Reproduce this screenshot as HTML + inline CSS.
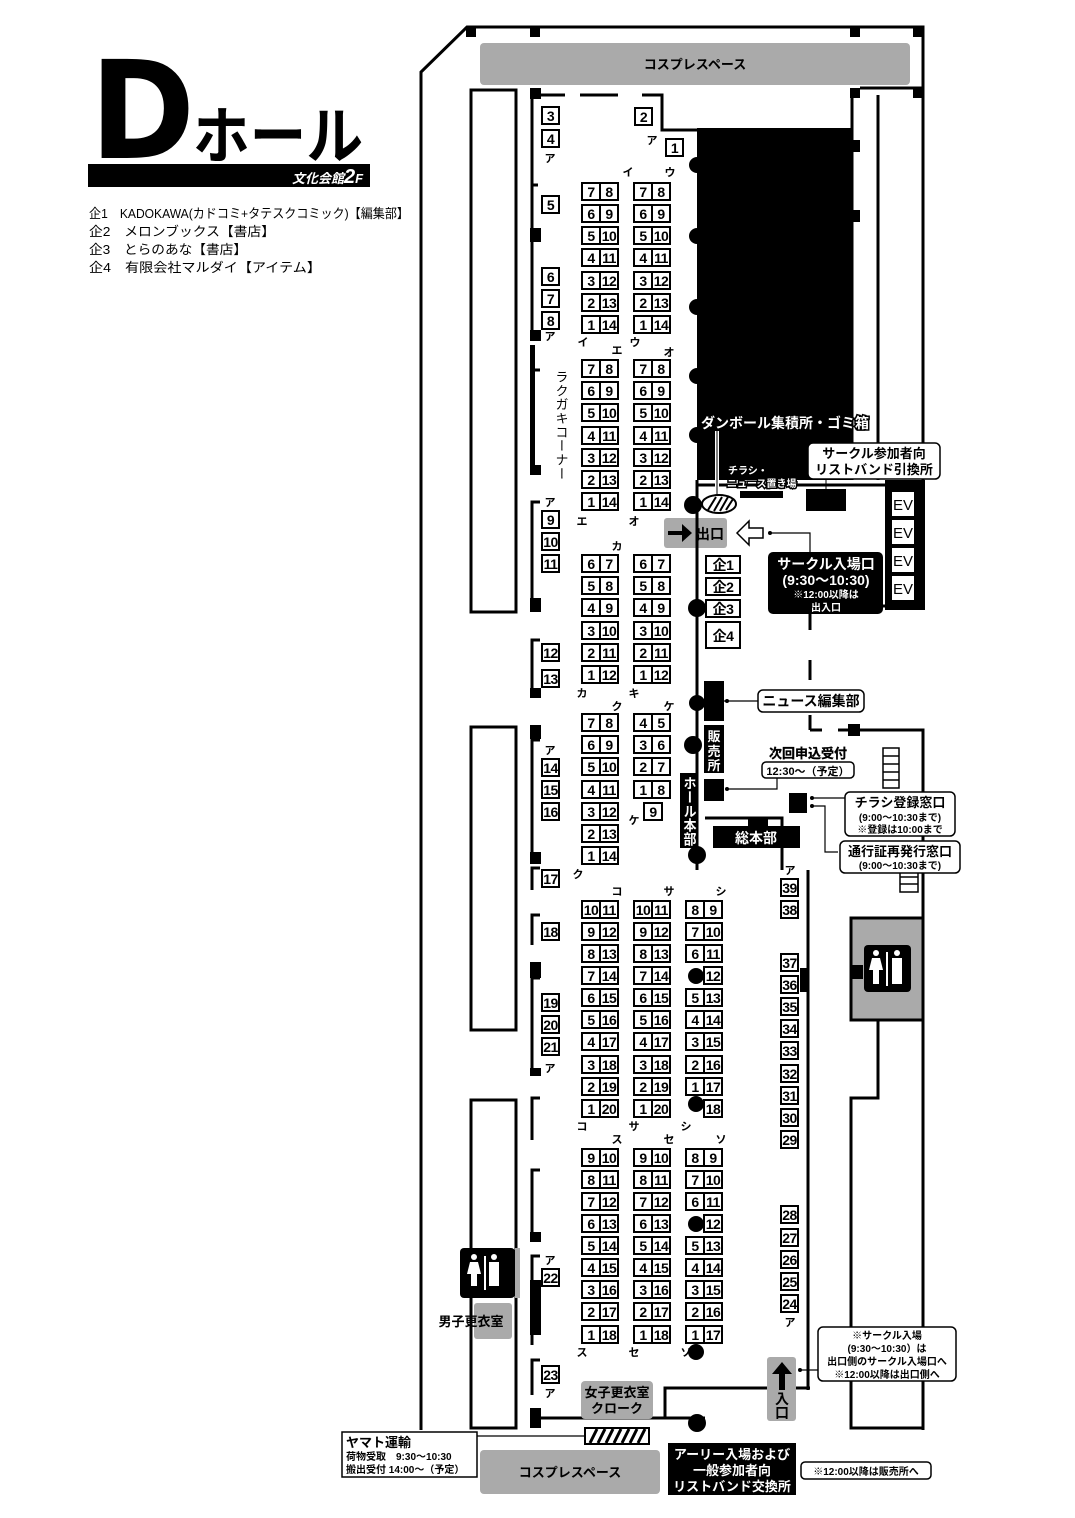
<!DOCTYPE html>
<html><head><meta charset="utf-8">
<style>
html,body{margin:0;padding:0;background:#fff;}
svg{display:block;}
text{font-family:"Liberation Sans","Noto Sans CJK JP",sans-serif;}
.bt rect{fill:#fff;stroke:#000;stroke-width:2;}
.bt text{font-size:14px;font-weight:bold;text-anchor:middle;letter-spacing:-0.5px;}
.lb{font-size:11px;font-weight:bold;text-anchor:middle;}
.w{fill:none;stroke:#000;stroke-width:3;}
.t{fill:none;stroke:#000;stroke-width:1.2;}
.c{font-weight:bold;text-anchor:middle;}
.ol{fill:#fff;stroke:#000;stroke-width:3;paint-order:stroke;font-weight:bold;}
.vt{writing-mode:vertical-rl;}
</style></head>
<body>
<svg width="1075" height="1518" viewBox="0 0 1075 1518" xmlns="http://www.w3.org/2000/svg">
<!-- Title -->
<text x="90" y="158" font-size="136" font-weight="bold" style="font-family:'DejaVu Sans','Liberation Sans',sans-serif" textLength="105" lengthAdjust="spacingAndGlyphs">D</text>
<text x="193" y="158" font-size="62" font-weight="bold" style="font-family:'Noto Sans CJK JP',sans-serif" textLength="170" lengthAdjust="spacingAndGlyphs">ホール</text>
<rect x="88" y="164" width="282" height="23" fill="#000"/>
<text x="292" y="183" font-size="13" font-weight="bold" fill="#fff" font-style="italic">文化会館<tspan font-size="20">2</tspan><tspan font-size="13">F</tspan></text>
<g font-size="13">
<text x="89" y="218" textLength="320" lengthAdjust="spacingAndGlyphs">企1　KADOKAWA(カドコミ+タテスクコミック)【編集部】</text>
<text x="89" y="236" textLength="186" lengthAdjust="spacingAndGlyphs">企2　メロンブックス【書店】</text>
<text x="89" y="254" textLength="158" lengthAdjust="spacingAndGlyphs">企3　とらのあな【書店】</text>
<text x="89" y="272" textLength="232" lengthAdjust="spacingAndGlyphs">企4　有限会社マルダイ【アイテム】</text>
</g>

<!-- outer walls -->
<polyline class="w" points="421,1430 421,72 467,27 923,27 923,482"/>
<rect x="466" y="27" width="10" height="10"/><rect x="530" y="27" width="10" height="10"/><rect x="850" y="27" width="10" height="10"/><rect x="913" y="27" width="10" height="10"/>
<rect x="480" y="43" width="430" height="42" rx="4" fill="#aaa"/>
<text x="695" y="69" font-size="13" font-weight="bold" text-anchor="middle">コスプレスペース</text>
<line class="w" x1="860" y1="88" x2="923" y2="88"/><rect x="850" y="88" width="10" height="10"/><rect x="913" y="88" width="10" height="10"/>
<!-- left rooms -->
<rect class="w" x="471" y="90" width="45" height="522"/>
<rect class="w" x="471" y="727" width="45" height="303"/>
<rect class="w" x="471" y="1100" width="45" height="328"/>
<rect x="460" y="1248" width="55" height="50" rx="4" fill="#000"/>
<rect x="515" y="1248" width="5" height="50" fill="#aaa"/>
<rect x="474" y="1303" width="38" height="36" rx="3" fill="#aaa"/>
<text x="471" y="1326" font-size="13" font-weight="bold" text-anchor="middle">男子更衣室</text>
<g fill="#fff"><circle cx="474" cy="1257" r="3"/><path d="M470 1262h8l3 12h-4v12h-6v-12h-4z"/><rect x="484" y="1256" width="2" height="34"/><circle cx="494" cy="1257" r="3"/><rect x="489" y="1262" width="10" height="24"/></g>
<!-- inner left wall -->
<g class="w">
<polyline points="532,235 532,95 565,95"/><line x1="580" y1="95" x2="618" y2="95"/><polyline points="642,95 662,95 662,130 697,130"/>
<polyline points="532,335 532,185 538,185"/><polyline points="540,370 532,370 532,468"/>
<polyline points="540,502 532,502 532,600"/>
<polyline points="540,640 532,640 532,688"/>
<polyline points="540,740 532,740 532,855"/>
<polyline points="540,868 532,868 532,890"/>
<polyline points="540,915 532,915 532,945"/>
<polyline points="540,978 532,978 532,1070"/>
<polyline points="540,1098 532,1098 532,1140"/>
<polyline points="540,1170 532,1170 532,1232"/>
<polyline points="540,1256 532,1256 532,1345"/>
<polyline points="540,1360 532,1360 532,1395"/>
<polyline points="532,1418 705,1418"/><line x1="750" y1="1388" x2="810" y2="1388"/>
<polyline points="665,1418 665,1388 740,1388"/>
</g>
<g fill="#000">
<rect x="530" y="88" width="11" height="11"/><rect x="530" y="228" width="11" height="14"/><rect x="530" y="330" width="11" height="11"/><rect x="530" y="465" width="11" height="10"/><rect x="530" y="598" width="11" height="14"/><rect x="530" y="688" width="11" height="10"/><rect x="530" y="725" width="11" height="14"/><rect x="530" y="852" width="11" height="12"/><rect x="530" y="962" width="11" height="16"/><rect x="530" y="1068" width="11" height="8"/><rect x="530" y="1232" width="11" height="10"/><rect x="530" y="1280" width="11" height="55"/><rect x="530" y="1408" width="11" height="20"/>
<rect x="530" y="345" width="5" height="130"/>
</g>
<!-- black block -->
<rect x="697" y="128" width="155" height="352" fill="#000"/>
<g fill="#000"><circle cx="697" cy="165" r="8"/><circle cx="697" cy="236" r="8"/><circle cx="697" cy="307" r="8"/><circle cx="697" cy="376" r="8"/><circle cx="697" cy="435" r="8"/><circle cx="693" cy="505" r="9"/><circle cx="697" cy="608" r="9"/><circle cx="697" cy="703" r="8"/><circle cx="693" cy="745" r="9"/><circle cx="697" cy="855" r="9"/><circle cx="696" cy="1352" r="8"/><circle cx="697" cy="1423" r="9"/></g>
<g class="w"><line x1="852" y1="90" x2="852" y2="480"/><line x1="878" y1="95" x2="878" y2="480"/><line x1="697" y1="485" x2="885" y2="485"/></g>
<rect x="852" y="140" width="8" height="12" fill="#000"/><rect x="852" y="210" width="8" height="12" fill="#000"/>
<rect x="885" y="480" width="40" height="130" fill="#000"/>
<g font-size="15" text-anchor="middle"><rect x="892" y="520" width="22" height="24" fill="#fff"/><text x="903" y="538">EV</text><rect x="892" y="548" width="22" height="24" fill="#fff"/><text x="903" y="566">EV</text><rect x="892" y="576" width="22" height="24" fill="#fff"/><text x="903" y="594">EV</text><rect x="892" y="492" width="22" height="24" fill="#fff"/><text x="903" y="510">EV</text></g>
<line x1="717" y1="431" x2="717" y2="495" stroke="#fff" stroke-width="4"/><line x1="717" y1="431" x2="717" y2="495" stroke="#000" stroke-width="1"/>
<text class="ol" x="785" y="428" font-size="14" text-anchor="middle">ダンボール集積所・ゴミ箱</text>
<ellipse cx="719" cy="504" rx="17" ry="9" fill="#fff" stroke="#000" stroke-width="2"/>
<g stroke="#000" stroke-width="2"><line x1="708" y1="510" x2="716" y2="497"/><line x1="714" y1="511" x2="722" y2="497"/><line x1="720" y1="511" x2="728" y2="497"/><line x1="726" y1="510" x2="733" y2="499"/></g>
<text class="ol" x="728" y="474" font-size="10">チラシ・</text>
<text class="ol" x="727" y="487" font-size="10">ニュース置き場</text>
<rect x="740" y="491" width="43" height="7" fill="#000"/>
<rect x="806" y="489" width="40" height="22" fill="#000"/>
<rect x="808" y="443" width="132" height="36" rx="5" fill="#fff" stroke="#000" stroke-width="1.5"/>
<text class="c" x="874" y="458" font-size="13">サークル参加者向</text><text class="c" x="874" y="474" font-size="13">リストバンド引換所</text>
<line x1="826" y1="479" x2="826" y2="493" stroke="#000"/>
<!-- exit -->
<rect x="664" y="518" width="63" height="30" rx="3" fill="#aaa"/>
<path d="M668 531h14v-7l10 9-10 9v-7h-14z" fill="#000"/>
<text x="710" y="539" font-size="14" font-weight="bold" text-anchor="middle">出口</text>
<path d="M737 533l12-12v7h14v10h-14v7z" fill="#fff" stroke="#000" stroke-width="1.5"/>
<polyline class="t" points="770,533 810,533 810,555"/><circle cx="770" cy="533" r="2"/>
<rect x="768" y="552" width="115" height="62" rx="5" fill="#000"/>
<g fill="#fff" text-anchor="middle" font-weight="bold"><text x="826" y="569" font-size="14">サークル入場口</text><text x="826" y="585" font-size="14">(9:30〜10:30)</text><text x="826" y="598" font-size="10">※12:00以降は</text><text x="826" y="611" font-size="10">出入口</text></g>
<line class="w" x1="810" y1="614" x2="810" y2="630"/>
<line x1="883" y1="606" x2="923" y2="606" stroke="#000" stroke-width="3"/>
<!-- center vertical & dashed -->
<g class="w"><line x1="697" y1="480" x2="697" y2="870"/>
<line x1="810" y1="660" x2="810" y2="680"/><line x1="810" y1="715" x2="810" y2="730"/>
<polyline points="810,730 822,730"/><polyline points="838,730 923,730 923,1430"/>
<line x1="808" y1="870" x2="808" y2="1390"/>
<polyline points="705,818 782,818 782,870"/>
<polyline points="851,918 923,918"/><line x1="851" y1="1020" x2="923" y2="1020"/><polyline points="878,1020 878,1098 851,1098 851,1428 923,1428"/>
</g>
<rect x="851" y="918" width="72" height="102" fill="#aaa" stroke="#000" stroke-width="3"/>
<rect x="864" y="945" width="47" height="47" rx="4" fill="#000"/>
<g fill="#fff"><circle cx="876" cy="953" r="3"/><path d="M872 958h8l3 12h-4v14h-6v-14h-4z"/><rect x="886" y="952" width="2" height="34"/><circle cx="897" cy="953" r="3"/><rect x="892" y="958" width="10" height="26"/></g>
<rect x="851" y="965" width="12" height="14" fill="#000"/>
<rect x="800" y="968" width="8" height="24" fill="#000"/>
<!-- stairs -->
<rect x="883" y="748" width="16" height="40" fill="#fff" stroke="#000" stroke-width="1.5"/>
<g stroke="#000" stroke-width="1.5"><line x1="883" y1="756" x2="899" y2="756"/><line x1="883" y1="764" x2="899" y2="764"/><line x1="883" y1="772" x2="899" y2="772"/><line x1="883" y1="780" x2="899" y2="780"/></g>
<rect x="900" y="870" width="18" height="22" fill="#fff" stroke="#000" stroke-width="1.5"/>
<g stroke="#000" stroke-width="1.5"><line x1="900" y1="877" x2="918" y2="877"/><line x1="900" y1="884" x2="918" y2="884"/></g>
<rect x="848" y="724" width="12" height="12" fill="#000"/>
<!-- side labels -->
<rect x="704" y="681" width="20" height="40" fill="#000"/>
<line class="t" x1="724" y1="701" x2="760" y2="701"/><circle cx="727" cy="701" r="2"/>
<rect x="758" y="690" width="106" height="22" rx="5" fill="#fff" stroke="#000" stroke-width="1.5"/>
<text class="c" x="811" y="706" font-size="14">ニュース編集部</text>
<rect x="704" y="725" width="20" height="48" fill="#000"/>
<g font-size="13" font-weight="bold" fill="#fff" text-anchor="middle"><text x="714" y="741">販</text><text x="714" y="756">売</text><text x="714" y="770">所</text></g>
<rect x="704" y="779" width="20" height="22" fill="#000"/>
<polyline class="t" points="727,789 777,789 777,778"/><circle cx="727" cy="789" r="2"/>
<text class="c" x="808" y="758" font-size="13" stroke="#000" stroke-width="0.3">次回申込受付</text>
<rect x="762" y="762" width="92" height="16" rx="4" fill="#fff" stroke="#000" stroke-width="1.5"/>
<text class="c" x="808" y="775" font-size="11">12:30〜（予定）</text>
<rect x="680" y="773" width="18" height="75" fill="#000"/>
<text class="vt" x="689" y="776" font-size="13" font-weight="bold" fill="#fff" textLength="70" lengthAdjust="spacingAndGlyphs">ホール本部</text>
<rect x="713" y="826" width="87" height="22" fill="#000"/><rect x="748" y="818" width="20" height="10" fill="#000"/>
<text x="756" y="843" font-size="14" font-weight="bold" fill="#fff" text-anchor="middle">総本部</text>
<rect x="789" y="793" width="18" height="20" fill="#000"/>
<polyline class="t" points="812,798 845,798"/><circle cx="812" cy="798" r="2"/>
<polyline class="t" points="812,806 825,806 825,852 838,852"/><circle cx="812" cy="806" r="2"/>
<rect x="845" y="792" width="110" height="44" rx="5" fill="#fff" stroke="#000" stroke-width="1.5"/>
<text class="c" x="900" y="807" font-size="13">チラシ登録窓口</text><text class="c" x="900" y="821" font-size="10">(9:00〜10:30まで)</text><text class="c" x="900" y="833" font-size="10">※登録は10:00まで</text>
<rect x="840" y="841" width="120" height="32" rx="5" fill="#fff" stroke="#000" stroke-width="1.5"/>
<text class="c" x="900" y="856" font-size="13">通行証再発行窓口</text><text class="c" x="900" y="869" font-size="10">(9:00〜10:30まで)</text>
<!-- 企 booths -->
<g class="bt"><rect x="706" y="556" width="34" height="17"/><rect x="706" y="578" width="34" height="17"/><rect x="706" y="600" width="34" height="17"/><rect x="706" y="622" width="34" height="26"/>
<text x="723" y="570">企1</text><text x="723" y="592">企2</text><text x="723" y="614">企3</text><text x="723" y="641">企4</text></g>
<!-- ラクガキコーナー -->
<text class="vt" x="561" y="370" font-size="13" textLength="110" lengthAdjust="spacing">ラクガキコーナー</text>

<!-- BOOTHS -->
<g class="bt">
<g transform="translate(542,107)"><rect width="17" height="17"/><text x="8.5" y="14">3</text></g>
<g transform="translate(542,130)"><rect width="17" height="17"/><text x="8.5" y="14">4</text></g>
<g transform="translate(542,196)"><rect width="17" height="17"/><text x="8.5" y="14">5</text></g>
<g transform="translate(542,268)"><rect width="17" height="17"/><text x="8.5" y="14">6</text></g>
<g transform="translate(542,290)"><rect width="17" height="17"/><text x="8.5" y="14">7</text></g>
<g transform="translate(542,312)"><rect width="17" height="17"/><text x="8.5" y="14">8</text></g>
<g transform="translate(542,511)"><rect width="17" height="17"/><text x="8.5" y="14">9</text></g>
<g transform="translate(542,533)"><rect width="17" height="17"/><text x="8.5" y="14">10</text></g>
<g transform="translate(542,555)"><rect width="17" height="17"/><text x="8.5" y="14">11</text></g>
<g transform="translate(542,644)"><rect width="17" height="17"/><text x="8.5" y="14">12</text></g>
<g transform="translate(542,670)"><rect width="17" height="17"/><text x="8.5" y="14">13</text></g>
<g transform="translate(542,759)"><rect width="17" height="17"/><text x="8.5" y="14">14</text></g>
<g transform="translate(542,781)"><rect width="17" height="17"/><text x="8.5" y="14">15</text></g>
<g transform="translate(542,803)"><rect width="17" height="17"/><text x="8.5" y="14">16</text></g>
<g transform="translate(542,870)"><rect width="17" height="17"/><text x="8.5" y="14">17</text></g>
<g transform="translate(542,923)"><rect width="17" height="17"/><text x="8.5" y="14">18</text></g>
<g transform="translate(542,994)"><rect width="17" height="17"/><text x="8.5" y="14">19</text></g>
<g transform="translate(542,1016)"><rect width="17" height="17"/><text x="8.5" y="14">20</text></g>
<g transform="translate(542,1038)"><rect width="17" height="17"/><text x="8.5" y="14">21</text></g>
<g transform="translate(542,1269)"><rect width="17" height="17"/><text x="8.5" y="14">22</text></g>
<g transform="translate(542,1366)"><rect width="17" height="17"/><text x="8.5" y="14">23</text></g>
<g transform="translate(635,108)"><rect width="17" height="17"/><text x="8.5" y="14">2</text></g>
<g transform="translate(666,139)"><rect width="17" height="17"/><text x="8.5" y="14">1</text></g>
<g transform="translate(781,879)"><rect width="17" height="17"/><text x="8.5" y="14">39</text></g>
<g transform="translate(781,901)"><rect width="17" height="17"/><text x="8.5" y="14">38</text></g>
<g transform="translate(781,954)"><rect width="17" height="17"/><text x="8.5" y="14">37</text></g>
<g transform="translate(781,976)"><rect width="17" height="17"/><text x="8.5" y="14">36</text></g>
<g transform="translate(781,998)"><rect width="17" height="17"/><text x="8.5" y="14">35</text></g>
<g transform="translate(781,1020)"><rect width="17" height="17"/><text x="8.5" y="14">34</text></g>
<g transform="translate(781,1042)"><rect width="17" height="17"/><text x="8.5" y="14">33</text></g>
<g transform="translate(781,1065)"><rect width="17" height="17"/><text x="8.5" y="14">32</text></g>
<g transform="translate(781,1087)"><rect width="17" height="17"/><text x="8.5" y="14">31</text></g>
<g transform="translate(781,1109)"><rect width="17" height="17"/><text x="8.5" y="14">30</text></g>
<g transform="translate(781,1131)"><rect width="17" height="17"/><text x="8.5" y="14">29</text></g>
<g transform="translate(781,1206)"><rect width="17" height="17"/><text x="8.5" y="14">28</text></g>
<g transform="translate(781,1229)"><rect width="17" height="17"/><text x="8.5" y="14">27</text></g>
<g transform="translate(781,1251)"><rect width="17" height="17"/><text x="8.5" y="14">26</text></g>
<g transform="translate(781,1273)"><rect width="17" height="17"/><text x="8.5" y="14">25</text></g>
<g transform="translate(781,1295)"><rect width="17" height="17"/><text x="8.5" y="14">24</text></g>

<g transform="translate(582,183)"><rect width="18" height="17"/><rect x="18" width="18" height="17"/><text x="9" y="14">7</text><text x="27" y="14">8</text></g>
<g transform="translate(582,205)"><rect width="18" height="17"/><rect x="18" width="18" height="17"/><text x="9" y="14">6</text><text x="27" y="14">9</text></g>
<g transform="translate(582,227)"><rect width="18" height="17"/><rect x="18" width="18" height="17"/><text x="9" y="14">5</text><text x="27" y="14">10</text></g>
<g transform="translate(582,249)"><rect width="18" height="17"/><rect x="18" width="18" height="17"/><text x="9" y="14">4</text><text x="27" y="14">11</text></g>
<g transform="translate(582,272)"><rect width="18" height="17"/><rect x="18" width="18" height="17"/><text x="9" y="14">3</text><text x="27" y="14">12</text></g>
<g transform="translate(582,294)"><rect width="18" height="17"/><rect x="18" width="18" height="17"/><text x="9" y="14">2</text><text x="27" y="14">13</text></g>
<g transform="translate(582,316)"><rect width="18" height="17"/><rect x="18" width="18" height="17"/><text x="9" y="14">1</text><text x="27" y="14">14</text></g>
<g transform="translate(634,183)"><rect width="18" height="17"/><rect x="18" width="18" height="17"/><text x="9" y="14">7</text><text x="27" y="14">8</text></g>
<g transform="translate(634,205)"><rect width="18" height="17"/><rect x="18" width="18" height="17"/><text x="9" y="14">6</text><text x="27" y="14">9</text></g>
<g transform="translate(634,227)"><rect width="18" height="17"/><rect x="18" width="18" height="17"/><text x="9" y="14">5</text><text x="27" y="14">10</text></g>
<g transform="translate(634,249)"><rect width="18" height="17"/><rect x="18" width="18" height="17"/><text x="9" y="14">4</text><text x="27" y="14">11</text></g>
<g transform="translate(634,272)"><rect width="18" height="17"/><rect x="18" width="18" height="17"/><text x="9" y="14">3</text><text x="27" y="14">12</text></g>
<g transform="translate(634,294)"><rect width="18" height="17"/><rect x="18" width="18" height="17"/><text x="9" y="14">2</text><text x="27" y="14">13</text></g>
<g transform="translate(634,316)"><rect width="18" height="17"/><rect x="18" width="18" height="17"/><text x="9" y="14">1</text><text x="27" y="14">14</text></g>
<g transform="translate(582,360)"><rect width="18" height="17"/><rect x="18" width="18" height="17"/><text x="9" y="14">7</text><text x="27" y="14">8</text></g>
<g transform="translate(582,382)"><rect width="18" height="17"/><rect x="18" width="18" height="17"/><text x="9" y="14">6</text><text x="27" y="14">9</text></g>
<g transform="translate(582,404)"><rect width="18" height="17"/><rect x="18" width="18" height="17"/><text x="9" y="14">5</text><text x="27" y="14">10</text></g>
<g transform="translate(582,427)"><rect width="18" height="17"/><rect x="18" width="18" height="17"/><text x="9" y="14">4</text><text x="27" y="14">11</text></g>
<g transform="translate(582,449)"><rect width="18" height="17"/><rect x="18" width="18" height="17"/><text x="9" y="14">3</text><text x="27" y="14">12</text></g>
<g transform="translate(582,471)"><rect width="18" height="17"/><rect x="18" width="18" height="17"/><text x="9" y="14">2</text><text x="27" y="14">13</text></g>
<g transform="translate(582,493)"><rect width="18" height="17"/><rect x="18" width="18" height="17"/><text x="9" y="14">1</text><text x="27" y="14">14</text></g>
<g transform="translate(634,360)"><rect width="18" height="17"/><rect x="18" width="18" height="17"/><text x="9" y="14">7</text><text x="27" y="14">8</text></g>
<g transform="translate(634,382)"><rect width="18" height="17"/><rect x="18" width="18" height="17"/><text x="9" y="14">6</text><text x="27" y="14">9</text></g>
<g transform="translate(634,404)"><rect width="18" height="17"/><rect x="18" width="18" height="17"/><text x="9" y="14">5</text><text x="27" y="14">10</text></g>
<g transform="translate(634,427)"><rect width="18" height="17"/><rect x="18" width="18" height="17"/><text x="9" y="14">4</text><text x="27" y="14">11</text></g>
<g transform="translate(634,449)"><rect width="18" height="17"/><rect x="18" width="18" height="17"/><text x="9" y="14">3</text><text x="27" y="14">12</text></g>
<g transform="translate(634,471)"><rect width="18" height="17"/><rect x="18" width="18" height="17"/><text x="9" y="14">2</text><text x="27" y="14">13</text></g>
<g transform="translate(634,493)"><rect width="18" height="17"/><rect x="18" width="18" height="17"/><text x="9" y="14">1</text><text x="27" y="14">14</text></g>
<g transform="translate(582,555)"><rect width="18" height="17"/><rect x="18" width="18" height="17"/><text x="9" y="14">6</text><text x="27" y="14">7</text></g>
<g transform="translate(582,577)"><rect width="18" height="17"/><rect x="18" width="18" height="17"/><text x="9" y="14">5</text><text x="27" y="14">8</text></g>
<g transform="translate(582,599)"><rect width="18" height="17"/><rect x="18" width="18" height="17"/><text x="9" y="14">4</text><text x="27" y="14">9</text></g>
<g transform="translate(582,622)"><rect width="18" height="17"/><rect x="18" width="18" height="17"/><text x="9" y="14">3</text><text x="27" y="14">10</text></g>
<g transform="translate(582,644)"><rect width="18" height="17"/><rect x="18" width="18" height="17"/><text x="9" y="14">2</text><text x="27" y="14">11</text></g>
<g transform="translate(582,666)"><rect width="18" height="17"/><rect x="18" width="18" height="17"/><text x="9" y="14">1</text><text x="27" y="14">12</text></g>
<g transform="translate(634,555)"><rect width="18" height="17"/><rect x="18" width="18" height="17"/><text x="9" y="14">6</text><text x="27" y="14">7</text></g>
<g transform="translate(634,577)"><rect width="18" height="17"/><rect x="18" width="18" height="17"/><text x="9" y="14">5</text><text x="27" y="14">8</text></g>
<g transform="translate(634,599)"><rect width="18" height="17"/><rect x="18" width="18" height="17"/><text x="9" y="14">4</text><text x="27" y="14">9</text></g>
<g transform="translate(634,622)"><rect width="18" height="17"/><rect x="18" width="18" height="17"/><text x="9" y="14">3</text><text x="27" y="14">10</text></g>
<g transform="translate(634,644)"><rect width="18" height="17"/><rect x="18" width="18" height="17"/><text x="9" y="14">2</text><text x="27" y="14">11</text></g>
<g transform="translate(634,666)"><rect width="18" height="17"/><rect x="18" width="18" height="17"/><text x="9" y="14">1</text><text x="27" y="14">12</text></g>
<g transform="translate(582,714)"><rect width="18" height="17"/><rect x="18" width="18" height="17"/><text x="9" y="14">7</text><text x="27" y="14">8</text></g>
<g transform="translate(582,736)"><rect width="18" height="17"/><rect x="18" width="18" height="17"/><text x="9" y="14">6</text><text x="27" y="14">9</text></g>
<g transform="translate(582,758)"><rect width="18" height="17"/><rect x="18" width="18" height="17"/><text x="9" y="14">5</text><text x="27" y="14">10</text></g>
<g transform="translate(582,781)"><rect width="18" height="17"/><rect x="18" width="18" height="17"/><text x="9" y="14">4</text><text x="27" y="14">11</text></g>
<g transform="translate(582,803)"><rect width="18" height="17"/><rect x="18" width="18" height="17"/><text x="9" y="14">3</text><text x="27" y="14">12</text></g>
<g transform="translate(582,825)"><rect width="18" height="17"/><rect x="18" width="18" height="17"/><text x="9" y="14">2</text><text x="27" y="14">13</text></g>
<g transform="translate(582,847)"><rect width="18" height="17"/><rect x="18" width="18" height="17"/><text x="9" y="14">1</text><text x="27" y="14">14</text></g>
<g transform="translate(634,714)"><rect width="18" height="17"/><rect x="18" width="18" height="17"/><text x="9" y="14">4</text><text x="27" y="14">5</text></g>
<g transform="translate(634,736)"><rect width="18" height="17"/><rect x="18" width="18" height="17"/><text x="9" y="14">3</text><text x="27" y="14">6</text></g>
<g transform="translate(634,758)"><rect width="18" height="17"/><rect x="18" width="18" height="17"/><text x="9" y="14">2</text><text x="27" y="14">7</text></g>
<g transform="translate(634,781)"><rect width="18" height="17"/><rect x="18" width="18" height="17"/><text x="9" y="14">1</text><text x="27" y="14">8</text></g>
<g transform="translate(644,803)"><rect width="18" height="17"/><text x="9" y="14">9</text></g>
<g transform="translate(582,901)"><rect width="18" height="17"/><rect x="18" width="18" height="17"/><text x="9" y="14">10</text><text x="27" y="14">11</text></g>
<g transform="translate(582,923)"><rect width="18" height="17"/><rect x="18" width="18" height="17"/><text x="9" y="14">9</text><text x="27" y="14">12</text></g>
<g transform="translate(582,945)"><rect width="18" height="17"/><rect x="18" width="18" height="17"/><text x="9" y="14">8</text><text x="27" y="14">13</text></g>
<g transform="translate(582,967)"><rect width="18" height="17"/><rect x="18" width="18" height="17"/><text x="9" y="14">7</text><text x="27" y="14">14</text></g>
<g transform="translate(582,989)"><rect width="18" height="17"/><rect x="18" width="18" height="17"/><text x="9" y="14">6</text><text x="27" y="14">15</text></g>
<g transform="translate(582,1011)"><rect width="18" height="17"/><rect x="18" width="18" height="17"/><text x="9" y="14">5</text><text x="27" y="14">16</text></g>
<g transform="translate(582,1033)"><rect width="18" height="17"/><rect x="18" width="18" height="17"/><text x="9" y="14">4</text><text x="27" y="14">17</text></g>
<g transform="translate(582,1056)"><rect width="18" height="17"/><rect x="18" width="18" height="17"/><text x="9" y="14">3</text><text x="27" y="14">18</text></g>
<g transform="translate(582,1078)"><rect width="18" height="17"/><rect x="18" width="18" height="17"/><text x="9" y="14">2</text><text x="27" y="14">19</text></g>
<g transform="translate(582,1100)"><rect width="18" height="17"/><rect x="18" width="18" height="17"/><text x="9" y="14">1</text><text x="27" y="14">20</text></g>
<g transform="translate(634,901)"><rect width="18" height="17"/><rect x="18" width="18" height="17"/><text x="9" y="14">10</text><text x="27" y="14">11</text></g>
<g transform="translate(634,923)"><rect width="18" height="17"/><rect x="18" width="18" height="17"/><text x="9" y="14">9</text><text x="27" y="14">12</text></g>
<g transform="translate(634,945)"><rect width="18" height="17"/><rect x="18" width="18" height="17"/><text x="9" y="14">8</text><text x="27" y="14">13</text></g>
<g transform="translate(634,967)"><rect width="18" height="17"/><rect x="18" width="18" height="17"/><text x="9" y="14">7</text><text x="27" y="14">14</text></g>
<g transform="translate(634,989)"><rect width="18" height="17"/><rect x="18" width="18" height="17"/><text x="9" y="14">6</text><text x="27" y="14">15</text></g>
<g transform="translate(634,1011)"><rect width="18" height="17"/><rect x="18" width="18" height="17"/><text x="9" y="14">5</text><text x="27" y="14">16</text></g>
<g transform="translate(634,1033)"><rect width="18" height="17"/><rect x="18" width="18" height="17"/><text x="9" y="14">4</text><text x="27" y="14">17</text></g>
<g transform="translate(634,1056)"><rect width="18" height="17"/><rect x="18" width="18" height="17"/><text x="9" y="14">3</text><text x="27" y="14">18</text></g>
<g transform="translate(634,1078)"><rect width="18" height="17"/><rect x="18" width="18" height="17"/><text x="9" y="14">2</text><text x="27" y="14">19</text></g>
<g transform="translate(634,1100)"><rect width="18" height="17"/><rect x="18" width="18" height="17"/><text x="9" y="14">1</text><text x="27" y="14">20</text></g>
<g transform="translate(686,901)"><rect width="18" height="17"/><rect x="18" width="18" height="17"/><text x="9" y="14">8</text><text x="27" y="14">9</text></g>
<g transform="translate(686,923)"><rect width="18" height="17"/><rect x="18" width="18" height="17"/><text x="9" y="14">7</text><text x="27" y="14">10</text></g>
<g transform="translate(686,945)"><rect width="18" height="17"/><rect x="18" width="18" height="17"/><text x="9" y="14">6</text><text x="27" y="14">11</text></g>
<g transform="translate(686,967)"><rect x="18" width="18" height="17"/><text x="27" y="14">12</text></g>
<g transform="translate(686,989)"><rect width="18" height="17"/><rect x="18" width="18" height="17"/><text x="9" y="14">5</text><text x="27" y="14">13</text></g>
<g transform="translate(686,1011)"><rect width="18" height="17"/><rect x="18" width="18" height="17"/><text x="9" y="14">4</text><text x="27" y="14">14</text></g>
<g transform="translate(686,1033)"><rect width="18" height="17"/><rect x="18" width="18" height="17"/><text x="9" y="14">3</text><text x="27" y="14">15</text></g>
<g transform="translate(686,1056)"><rect width="18" height="17"/><rect x="18" width="18" height="17"/><text x="9" y="14">2</text><text x="27" y="14">16</text></g>
<g transform="translate(686,1078)"><rect width="18" height="17"/><rect x="18" width="18" height="17"/><text x="9" y="14">1</text><text x="27" y="14">17</text></g>
<g transform="translate(686,1100)"><rect x="18" width="18" height="17"/><text x="27" y="14">18</text></g>
<g transform="translate(582,1149)"><rect width="18" height="17"/><rect x="18" width="18" height="17"/><text x="9" y="14">9</text><text x="27" y="14">10</text></g>
<g transform="translate(582,1171)"><rect width="18" height="17"/><rect x="18" width="18" height="17"/><text x="9" y="14">8</text><text x="27" y="14">11</text></g>
<g transform="translate(582,1193)"><rect width="18" height="17"/><rect x="18" width="18" height="17"/><text x="9" y="14">7</text><text x="27" y="14">12</text></g>
<g transform="translate(582,1215)"><rect width="18" height="17"/><rect x="18" width="18" height="17"/><text x="9" y="14">6</text><text x="27" y="14">13</text></g>
<g transform="translate(582,1237)"><rect width="18" height="17"/><rect x="18" width="18" height="17"/><text x="9" y="14">5</text><text x="27" y="14">14</text></g>
<g transform="translate(582,1259)"><rect width="18" height="17"/><rect x="18" width="18" height="17"/><text x="9" y="14">4</text><text x="27" y="14">15</text></g>
<g transform="translate(582,1281)"><rect width="18" height="17"/><rect x="18" width="18" height="17"/><text x="9" y="14">3</text><text x="27" y="14">16</text></g>
<g transform="translate(582,1303)"><rect width="18" height="17"/><rect x="18" width="18" height="17"/><text x="9" y="14">2</text><text x="27" y="14">17</text></g>
<g transform="translate(582,1326)"><rect width="18" height="17"/><rect x="18" width="18" height="17"/><text x="9" y="14">1</text><text x="27" y="14">18</text></g>
<g transform="translate(634,1149)"><rect width="18" height="17"/><rect x="18" width="18" height="17"/><text x="9" y="14">9</text><text x="27" y="14">10</text></g>
<g transform="translate(634,1171)"><rect width="18" height="17"/><rect x="18" width="18" height="17"/><text x="9" y="14">8</text><text x="27" y="14">11</text></g>
<g transform="translate(634,1193)"><rect width="18" height="17"/><rect x="18" width="18" height="17"/><text x="9" y="14">7</text><text x="27" y="14">12</text></g>
<g transform="translate(634,1215)"><rect width="18" height="17"/><rect x="18" width="18" height="17"/><text x="9" y="14">6</text><text x="27" y="14">13</text></g>
<g transform="translate(634,1237)"><rect width="18" height="17"/><rect x="18" width="18" height="17"/><text x="9" y="14">5</text><text x="27" y="14">14</text></g>
<g transform="translate(634,1259)"><rect width="18" height="17"/><rect x="18" width="18" height="17"/><text x="9" y="14">4</text><text x="27" y="14">15</text></g>
<g transform="translate(634,1281)"><rect width="18" height="17"/><rect x="18" width="18" height="17"/><text x="9" y="14">3</text><text x="27" y="14">16</text></g>
<g transform="translate(634,1303)"><rect width="18" height="17"/><rect x="18" width="18" height="17"/><text x="9" y="14">2</text><text x="27" y="14">17</text></g>
<g transform="translate(634,1326)"><rect width="18" height="17"/><rect x="18" width="18" height="17"/><text x="9" y="14">1</text><text x="27" y="14">18</text></g>
<g transform="translate(686,1149)"><rect width="18" height="17"/><rect x="18" width="18" height="17"/><text x="9" y="14">8</text><text x="27" y="14">9</text></g>
<g transform="translate(686,1171)"><rect width="18" height="17"/><rect x="18" width="18" height="17"/><text x="9" y="14">7</text><text x="27" y="14">10</text></g>
<g transform="translate(686,1193)"><rect width="18" height="17"/><rect x="18" width="18" height="17"/><text x="9" y="14">6</text><text x="27" y="14">11</text></g>
<g transform="translate(686,1215)"><rect x="18" width="18" height="17"/><text x="27" y="14">12</text></g>
<g transform="translate(686,1237)"><rect width="18" height="17"/><rect x="18" width="18" height="17"/><text x="9" y="14">5</text><text x="27" y="14">13</text></g>
<g transform="translate(686,1259)"><rect width="18" height="17"/><rect x="18" width="18" height="17"/><text x="9" y="14">4</text><text x="27" y="14">14</text></g>
<g transform="translate(686,1281)"><rect width="18" height="17"/><rect x="18" width="18" height="17"/><text x="9" y="14">3</text><text x="27" y="14">15</text></g>
<g transform="translate(686,1303)"><rect width="18" height="17"/><rect x="18" width="18" height="17"/><text x="9" y="14">2</text><text x="27" y="14">16</text></g>
<g transform="translate(686,1326)"><rect width="18" height="17"/><rect x="18" width="18" height="17"/><text x="9" y="14">1</text><text x="27" y="14">17</text></g>
</g>
<g fill="#000"><circle cx="696" cy="976" r="8"/><circle cx="696" cy="1104" r="8"/><circle cx="696" cy="1224" r="8"/></g>

<!-- row letters -->
<g class="lb">
<text x="628" y="176">イ</text><text x="670" y="176">ウ</text><text x="550" y="162">ア</text><text x="652" y="144">ア</text>
<text x="583" y="346">イ</text><text x="617" y="354">エ</text><text x="635" y="346">ウ</text><text x="669" y="356">オ</text>
<text x="550" y="506">ア</text><text x="582" y="525">エ</text><text x="634" y="525">オ</text><text x="617" y="550">カ</text>
<text x="582" y="697">カ</text><text x="634" y="697">キ</text><text x="617" y="710">ク</text><text x="669" y="710">ケ</text>
<text x="550" y="754">ア</text><text x="634" y="824">ケ</text><text x="578" y="878">ク</text>
<text x="617" y="895">コ</text><text x="669" y="895">サ</text><text x="721" y="895">シ</text><text x="790" y="874">ア</text>
<text x="550" y="1072">ア</text><text x="582" y="1130">コ</text><text x="617" y="1143">ス</text><text x="634" y="1130">サ</text><text x="669" y="1143">セ</text><text x="686" y="1130">シ</text><text x="721" y="1143">ソ</text>
<text x="550" y="1264">ア</text><text x="550" y="1397">ア</text><text x="582" y="1356">ス</text><text x="634" y="1356">セ</text><text x="686" y="1356">ソ</text><text x="790" y="1326">ア</text>
<text x="550" y="340">ア</text>
</g>

<!-- bottom -->
<rect x="581" y="1381" width="72" height="38" rx="4" fill="#aaa"/>
<text class="c" x="617" y="1397" font-size="13">女子更衣室</text><text class="c" x="617" y="1413" font-size="13">クローク</text>
<rect x="585" y="1428" width="64" height="16" fill="#fff" stroke="#000" stroke-width="2"/>
<g stroke="#000" stroke-width="3"><line x1="590" y1="1443" x2="597" y2="1429"/><line x1="598" y1="1443" x2="605" y2="1429"/><line x1="606" y1="1443" x2="613" y2="1429"/><line x1="614" y1="1443" x2="621" y2="1429"/><line x1="622" y1="1443" x2="629" y2="1429"/><line x1="630" y1="1443" x2="637" y2="1429"/><line x1="638" y1="1443" x2="645" y2="1429"/></g>
<line class="t" x1="477" y1="1436" x2="585" y2="1436"/>
<rect x="342" y="1432" width="135" height="45" fill="#fff" stroke="#000" stroke-width="1.5"/>
<text x="346" y="1447" font-size="13" font-weight="bold">ヤマト運輸</text>
<text x="346" y="1460" font-size="10" font-weight="bold">荷物受取　9:30〜10:30</text>
<text x="346" y="1473" font-size="10" font-weight="bold">搬出受付 14:00〜（予定）</text>
<rect x="480" y="1450" width="180" height="44" rx="4" fill="#aaa"/>
<text x="570" y="1477" font-size="13" font-weight="bold" text-anchor="middle">コスプレスペース</text>
<rect x="767" y="1357" width="29" height="64" rx="3" fill="#aaa"/>
<path d="M782 1362l-10 12h7v16h6v-16h7z" fill="#000"/>
<text x="782" y="1404" font-size="14" font-weight="bold" text-anchor="middle">入</text><text x="782" y="1418" font-size="14" font-weight="bold" text-anchor="middle">口</text>
<line class="w" x1="740" y1="1388" x2="760" y2="1388"/>
<line class="t" x1="800" y1="1370" x2="818" y2="1370"/><circle cx="800" cy="1370" r="2"/>
<rect x="818" y="1327" width="138" height="54" rx="5" fill="#fff" stroke="#000" stroke-width="1.5"/>
<g class="c" font-size="10"><text x="887" y="1339">※サークル入場</text><text x="887" y="1352">(9:30〜10:30）は</text><text x="887" y="1365">出口側のサークル入場口へ</text><text x="887" y="1378">※12:00以降は出口側へ</text></g>
<rect x="668" y="1443" width="128" height="52" fill="#000"/>
<g fill="#fff" text-anchor="middle" font-size="13" font-weight="bold"><text x="732" y="1459">アーリー入場および</text><text x="732" y="1475">一般参加者向</text><text x="732" y="1491">リストバンド交換所</text></g>
<rect x="801" y="1462" width="130" height="17" rx="4" fill="#fff" stroke="#000" stroke-width="1.5"/>
<text class="c" x="866" y="1475" font-size="10">※12:00以降は販売所へ</text>
</svg>
</body></html>
